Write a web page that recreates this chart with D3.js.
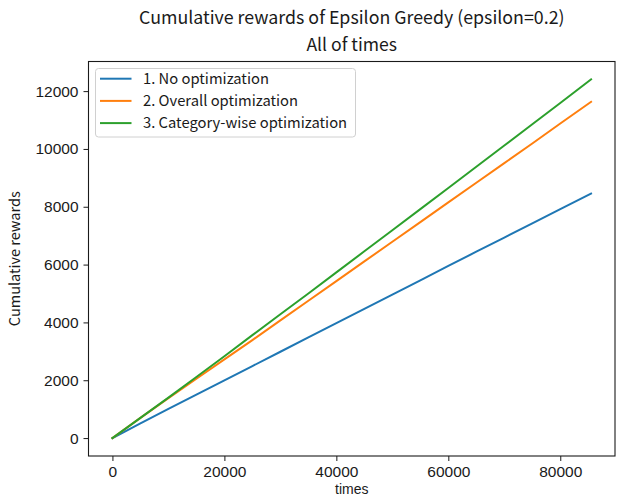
<!DOCTYPE html><html><head><meta charset="utf-8"><script src="https://cdn.jsdelivr.net/npm/d3@7"></script>
<style>body{margin:0;background:#fff}text{font-family:"Noto Sans CJK JP","Noto Sans",sans-serif;fill:#1a1a1a}</style></head><body><svg width="617" height="497"></svg><script>
const times=[0,5000,10000,15000,20000,25000,30000,35000,40000,45000,50000,55000,60000,65000,70000,75000,80000,85500];
const noOpt=[0,510,1010,1500,1995,2490,2985,3480,3975,4465,4960,5455,5955,6445,6935,7425,7920,8456];
const overallOpt=[0,700,1380,2050,2720,3390,4070,4750,5430,6110,6790,7470,8150,8830,9510,10190,10880,11631];
const categoryOpt=[0,700,1400,2110,2830,3560,4280,5000,5730,6460,7190,7920,8650,9385,10120,10855,11590,12404];
const seriesNames=["1. No optimization","2. Overall optimization","3. Category-wise optimization"];
const colors=["#1f77b4","#ff7f0e","#2ca02c"];
const xTicks=[0,20000,40000,60000,80000];
const yTicks=[0,2000,4000,6000,8000,10000,12000];
const title1="Cumulative rewards of Epsilon Greedy (epsilon=0.2)";
const title2="All of times";

const L=88.5,R=615,T=61.5,B=456;
const svg=d3.select("svg");
const xmax=d3.max(times),ymax=d3.max(categoryOpt);
const x=d3.scaleLinear().domain([-0.05*xmax,1.05*xmax]).range([L,R]);
const y=d3.scaleLinear().domain([-0.05*ymax,1.05*ymax]).range([B,T]);

const line=d3.line().x((d,i)=>x(times[i])).y(d=>y(d));
[noOpt,overallOpt,categoryOpt].forEach((s,i)=>{
  svg.append("path").attr("d",line(s)).attr("fill","none").attr("stroke",colors[i]).attr("stroke-width",2).attr("stroke-linecap","square");
});

const tickFont='"Liberation Sans", Arial, sans-serif';
const xa=svg.append("g").attr("transform",`translate(0,${B})`).call(d3.axisBottom(x).tickValues(xTicks).tickFormat(d3.format("d")).tickSize(5).tickPadding(4));
const ya=svg.append("g").attr("transform",`translate(${L},0)`).call(d3.axisLeft(y).tickValues(yTicks).tickFormat(d3.format("d")).tickSize(5).tickPadding(5));
[xa,ya].forEach(a=>{a.selectAll("text").attr("font-size",15.5).style("font-family",tickFont).attr("fill","#1a1a1a");a.selectAll("line").attr("stroke","#1a1a1a").attr("stroke-width",1);a.select(".domain").remove();});
xa.selectAll("text").attr("y",21.2).attr("dy",null);
// spines
svg.append("rect").attr("x",L).attr("y",T).attr("width",R-L).attr("height",B-T).attr("fill","none").attr("stroke","#1a1a1a").attr("stroke-width",1.1);

svg.append("text").attr("x",(L+R)/2).attr("y",23.5).attr("text-anchor","middle").attr("font-size",17.8).text(title1);
svg.append("text").attr("x",(L+R)/2).attr("y",50.5).attr("text-anchor","middle").attr("font-size",17.6).text(title2);
svg.append("text").attr("x",(L+R)/2).attr("y",493.5).attr("text-anchor","middle").attr("font-size",14).style("font-family",tickFont).text("times");
svg.append("text").attr("transform",`translate(19.5,${(T+B)/2}) rotate(-90)`).attr("text-anchor","middle").attr("font-size",14.5).text("Cumulative rewards");

// legend
const lg=svg.append("g");
lg.append("rect").attr("x",95.5).attr("y",68.5).attr("width",260).attr("height",68.5).attr("rx",3).attr("fill","#fff").attr("fill-opacity",0.8).attr("stroke","#d0d0d0").attr("stroke-width",1);
seriesNames.forEach((n,i)=>{
  const yy=78.7+i*22.2;
  lg.append("line").attr("x1",100).attr("x2",131.5).attr("y1",yy).attr("y2",yy).attr("stroke",colors[i]).attr("stroke-width",2);
  lg.append("text").attr("x",143).attr("y",yy).attr("dy","0.35em").attr("font-size",14.75).text(n);
});
</script></body></html>
